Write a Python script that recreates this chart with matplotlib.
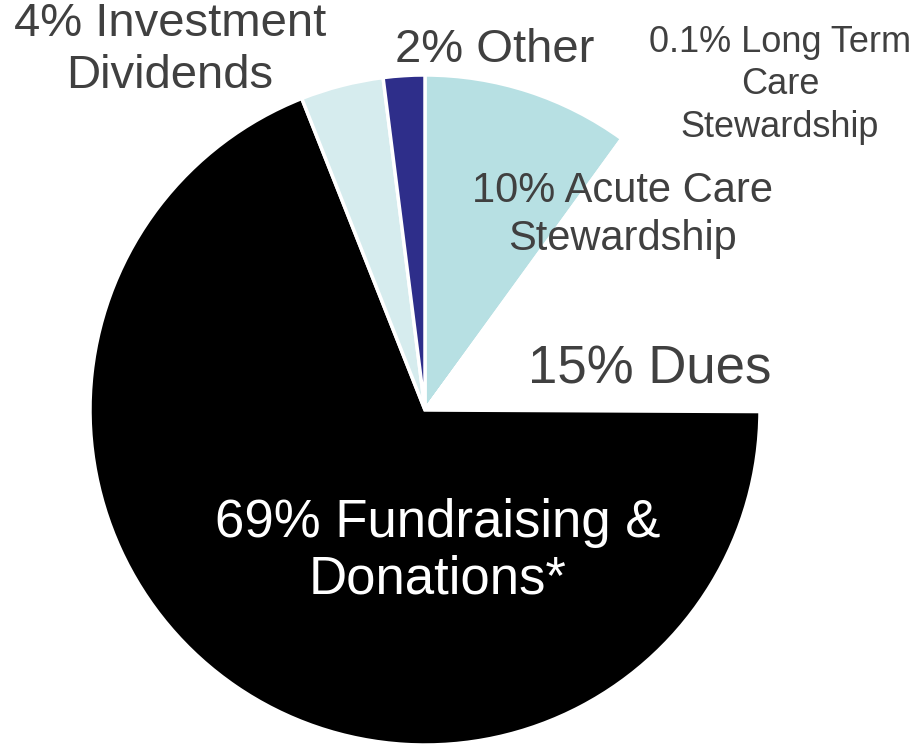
import matplotlib
matplotlib.use('Agg')
import matplotlib.pyplot as plt

plt.rcParams['font.family'] = ['Liberation Sans', 'DejaVu Sans']

# slices, clockwise from the top
labels = ['10% Acute Care\nStewardship', '0.1% Long Term\nCare\nStewardship', '15% Dues',
          '69% Fundraising &\nDonations*', '4% Investment\nDividends', '2% Other']
values = [10, 0.1, 15, 69, 4, 2]
colors = ['#B7E0E3', '#9FC5D0', '#FFFFFF', '#000000', '#D6ECEE', '#2E2E8A']

# label placement in pixels (x, y from top), font size, colour, line spacing
label_pos = [(622, 215), (780, 85), (650, 370), (438, 551), (170, 50), (495, 50)]
label_size = [30, 26, 38, 38, 34, 34]
label_color = ['#404040', '#404040', '#404040', 'white', '#404040', '#404040']
label_ls = [1.28, 1.28, 1.2, 1.16, 1.23, 1.2]

W, H = 923, 745
cx, cy, r = 425, 410, 335

fig = plt.figure(figsize=(W / 100, H / 100), dpi=100, facecolor='white')
ax = fig.add_axes([0, 0, 1, 1])
ax.pie(values, colors=colors, startangle=90, counterclock=False, radius=1,
       wedgeprops=dict(edgecolor='white', linewidth=2.5))
ax.set_aspect('auto')
ax.set_xlim(-cx / r, (W - cx) / r)
ax.set_ylim(-(H - cy) / r, cy / r)
ax.axis('off')

for lab, (px, py), fs, c, ls in zip(labels, label_pos, label_size, label_color, label_ls):
    ax.text((px - cx) / r, (cy - py) / r, lab, ha='center', va='center',
            fontsize=fs, color=c, linespacing=ls)

plt.savefig('out.png', dpi=100, facecolor='white')
